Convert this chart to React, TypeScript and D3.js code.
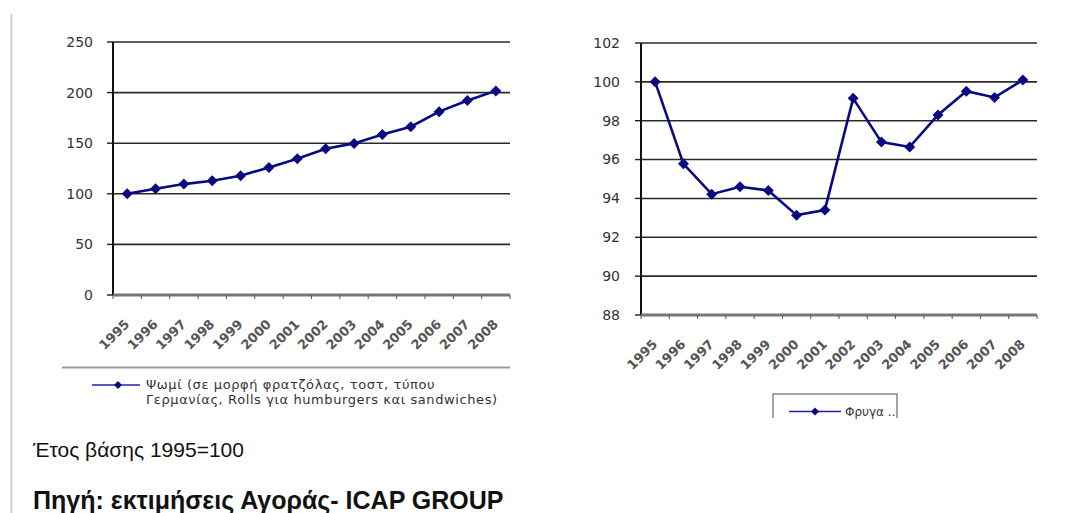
import React from "react";
import * as d3 from "d3";

const years = ["1995","1996","1997","1998","1999","2000","2001","2002","2003","2004","2005","2006","2007","2008"];
const breadValues = [100, 105, 109.6, 112.9, 117.8, 126.1, 134.7, 144.6, 149.8, 158.7, 166.3, 181.2, 192.1, 201.7];
const toastValues = [100, 95.78, 94.22, 94.6, 94.41, 93.14, 93.4, 99.15, 96.9, 96.65, 98.3, 99.52, 99.2, 100.09];
const leftTicks = [0, 50, 100, 150, 200, 250];
const rightTicks = [88, 90, 92, 94, 96, 98, 100, 102];
const leftLegend = ["Ψωμί (σε μορφή φρατζόλας, τοστ, τύπου", "Γερμανίας, Rolls για humburgers και sandwiches)"];
const rightLegend = "Φρυγα ..";
const noteText = "Έτος βάσης 1995=100";
const sourceText = "Πηγή: εκτιμήσεις Αγοράς- ICAP GROUP";

const LINE = "#0a0a80";

function Diamond({ x, y, r = 5.5 }: { x: number; y: number; r?: number }) {
  return <path d={`M${x},${y - r}L${x + r},${y}L${x},${y + r}L${x - r},${y}Z`} fill={LINE} />;
}

function Chart({
  values, ticks, domain, x0, x1, yTop, yBot, labelRight,
}: {
  values: number[]; ticks: number[]; domain: [number, number];
  x0: number; x1: number; yTop: number; yBot: number; labelRight: number;
}) {
  const x = d3.scaleBand<string>().domain(years).range([x0, x1]);
  const y = d3.scaleLinear().domain(domain).range([yBot, yTop]);
  const cx = (i: number) => (x(years[i]) as number) + x.bandwidth() / 2;
  const line = d3.line<number>().x((_, i) => cx(i)).y((d) => y(d));
  const bounds = years.map((yr) => x(yr) as number).concat([x1]);
  return (
    <g>
      {ticks.map((t, i) => (
        <g key={t}>
          {i > 0 && (
            <line x1={x0} x2={x1} y1={y(t)} y2={y(t)} stroke="#2a2a2a" strokeWidth={1.6} />
          )}
          <line x1={x0 - 6} x2={x0} y1={y(t)} y2={y(t)} stroke="#222" strokeWidth={1.4} />
          <text x={labelRight} y={y(t)} dy="0.35em" textAnchor="end" fontFamily="DejaVu Sans" fontSize={14} fill="#333">
            {t}
          </text>
        </g>
      ))}
      <line x1={x0} x2={x0} y1={yTop} y2={yBot} stroke="#111" strokeWidth={2} />
      <line x1={x0} x2={x1} y1={yBot} y2={yBot} stroke="#777" strokeWidth={3} />
      {bounds.map((b, i) => (
        <line key={i} x1={b} x2={b} y1={yBot} y2={yBot + 4} stroke="#555" strokeWidth={1} />
      ))}
      {years.map((yr, i) => (
        <text
          key={yr}
          transform={`translate(${cx(i) + 3},${yBot + 30}) rotate(-45)`}
          textAnchor="end"
          fontFamily="DejaVu Sans"
          fontWeight="bold"
          fontSize={13}
          fill="#555"
        >
          {yr}
        </text>
      ))}
      <path d={line(values) || ""} fill="none" stroke={LINE} strokeWidth={2.6} />
      {values.map((v, i) => (
        <Diamond key={i} x={cx(i)} y={y(v)} />
      ))}
    </g>
  );
}

export default function App() {
  return (
    <svg width={1085} height={513} style={{ position: "absolute", left: 0, top: 0, background: "#fff" }}>
      <rect x={0} y={0} width={1085} height={513} fill="#fff" />
      <line x1={11.5} x2={11.5} y1={14} y2={513} stroke="#d0d0d0" strokeWidth={2} />

      <Chart values={breadValues} ticks={leftTicks} domain={[0, 250]} x0={113} x1={510} yTop={42} yBot={295} labelRight={93} />
      <Chart values={toastValues} ticks={rightTicks} domain={[88, 102]} x0={641} x1={1037} yTop={43} yBot={315} labelRight={620} />

      {/* left legend */}
      <line x1={62} x2={510} y1={367.5} y2={367.5} stroke="#999" strokeWidth={2} />
      <line x1={92} x2={140} y1={385} y2={385} stroke="#2020b0" strokeWidth={1.5} />
      <Diamond x={118} y={385} r={4} />
      {leftLegend.map((t, i) => (
        <text key={i} x={146} y={389 + i * 15} fontFamily="DejaVu Sans" fontSize={13} letterSpacing={0.6} fill="#333">
          {t}
        </text>
      ))}

      {/* right legend */}
      <path d="M773,418V394H897V418" fill="none" stroke="#888" strokeWidth={1.5} />
      <line x1={789} x2={841} y1={411.5} y2={411.5} stroke="#2020b0" strokeWidth={1.5} />
      <Diamond x={815} y={411.5} r={4} />
      <text x={845} y={416} fontFamily="DejaVu Sans" fontSize={12} fill="#333">
        {rightLegend}
      </text>

      <text x={33} y={457} fontFamily="Liberation Sans" fontSize={21} fill="#111">
        {noteText}
      </text>
      <text x={33} y={509} fontFamily="Liberation Sans" fontWeight="bold" fontSize={25} fill="#111">
        {sourceText}
      </text>
    </svg>
  );
}
